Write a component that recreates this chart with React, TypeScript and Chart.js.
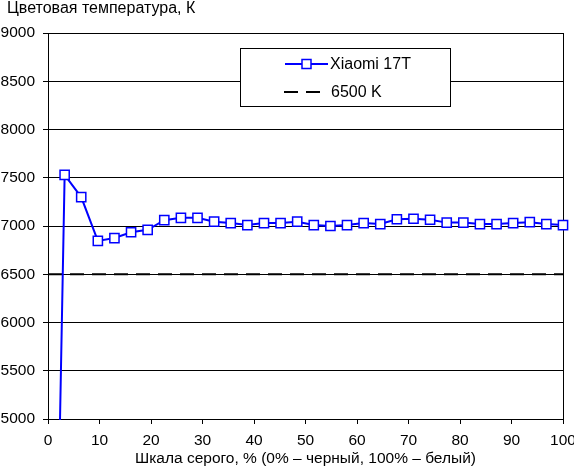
import React, { useEffect, useRef } from "react";
import { Chart, registerables } from "chart.js";

Chart.register(...registerables);

const FONT = "'Liberation Sans', Arial, sans-serif";

const grayLevels = [
  0, 3.23, 6.45, 9.68, 12.9, 16.13, 19.35, 22.58, 25.81, 29.03, 32.26, 35.48,
  38.71, 41.94, 45.16, 48.39, 51.61, 54.84, 58.06, 61.29, 64.52, 67.74, 70.97,
  74.19, 77.42, 80.65, 83.87, 87.1, 90.32, 93.55, 96.77, 100,
];

const xiaomiTemps = [
  -1600, 7530, 7300, 6845, 6875, 6935, 6960, 7060, 7085, 7085, 7045, 7030,
  7010, 7030, 7030, 7045, 7010, 7000, 7010, 7030, 7020, 7070, 7075, 7065,
  7035, 7035, 7020, 7020, 7030, 7040, 7020, 7010,
];

const refX = [0, 100];
const refTemps = [6500, 6500];

const seriesLabels = ["Xiaomi 17T", "6500 K"];
const yTitle = "Цветовая температура, К";
const xTitle = "Шкала серого, % (0% – черный, 100% – белый)";

const framePlugin = {
  id: "frame",
  beforeDatasetsDraw(chart: any) {
    const { ctx, chartArea } = chart;
    ctx.save();
    ctx.strokeStyle = "#000";
    ctx.lineWidth = 1;
    const x = Math.round(chartArea.right) + 0.5;
    ctx.beginPath();
    ctx.moveTo(x, chartArea.top);
    ctx.lineTo(x, chartArea.bottom + 5);
    ctx.stroke();
    ctx.restore();
  },
};

const textPlugin = {
  id: "yTitleText",
  afterDraw(chart: any) {
    const { ctx } = chart;
    ctx.save();
    ctx.fillStyle = "#000";
    ctx.font = `16px ${FONT}`;
    ctx.textAlign = "left";
    ctx.textBaseline = "alphabetic";
    ctx.fillText(yTitle, 7, 13);
    ctx.restore();
  },
};

const legendPlugin = {
  id: "boxLegend",
  afterDraw(chart: any) {
    const { ctx, chartArea } = chart;
    const left = chartArea.left + 192;
    const top = chartArea.top + 15;
    const w = 210;
    const h = 58;
    ctx.save();
    ctx.fillStyle = "#fff";
    ctx.fillRect(left, top, w, h);
    ctx.strokeStyle = "#000";
    ctx.lineWidth = 1;
    ctx.strokeRect(Math.round(left) + 0.5, Math.round(top) + 0.5, w, h);

    const ds = chart.data.datasets;
    const y1 = top + 16;
    ctx.strokeStyle = ds[0].borderColor;
    ctx.lineWidth = 2;
    ctx.setLineDash([]);
    ctx.beginPath();
    ctx.moveTo(left + 45, y1);
    ctx.lineTo(left + 88, y1);
    ctx.stroke();
    ctx.fillStyle = "#fff";
    ctx.fillRect(left + 62, y1 - 4.5, 9, 9);
    ctx.lineWidth = 1.5;
    ctx.strokeRect(left + 62, y1 - 4.5, 9, 9);

    const y2 = top + 44;
    ctx.strokeStyle = ds[1].borderColor;
    ctx.lineWidth = 2;
    ctx.setLineDash(ds[1].borderDash);
    ctx.beginPath();
    ctx.moveTo(left + 44, y2);
    ctx.lineTo(left + 81, y2);
    ctx.stroke();
    ctx.setLineDash([]);

    ctx.fillStyle = "#000";
    ctx.font = `16px ${FONT}`;
    ctx.textAlign = "left";
    ctx.textBaseline = "middle";
    ctx.fillText(ds[0].label, left + 90, y1 + 1);
    ctx.fillText(ds[1].label, left + 91, y2 + 1);
    ctx.restore();
  },
};

export default function App() {
  const ref = useRef<HTMLCanvasElement | null>(null);

  useEffect(() => {
    document.body.style.margin = "0";
    const canvas = ref.current;
    if (!canvas) return;
    const chart = new Chart(canvas, {
      type: "line",
      data: {
        datasets: [
          {
            label: seriesLabels[0],
            data: grayLevels.map((x, i) => ({ x, y: xiaomiTemps[i] })),
            borderColor: "#0000ff",
            backgroundColor: "#ffffff",
            borderWidth: 2,
            pointStyle: "rect",
            pointRadius: 6.5,
            pointBorderWidth: 1.5,
            pointBackgroundColor: "#ffffff",
            pointBorderColor: "#0000ff",
            tension: 0,
            clip: { left: 1, right: 10, top: 10, bottom: 1 },
          } as any,
          {
            label: seriesLabels[1],
            data: refX.map((x, i) => ({ x, y: refTemps[i] })),
            borderColor: "#000000",
            borderWidth: 2,
            borderDash: [14, 8],
            pointRadius: 0,
            tension: 0,
          } as any,
        ],
      },
      options: {
        responsive: false,
        animation: false,
        devicePixelRatio: 1,
        layout: { padding: { top: 33, right: 11, left: 0, bottom: 0 } },
        plugins: {
          legend: { display: false },
          tooltip: { enabled: false },
        },
        scales: {
          x: {
            type: "linear",
            min: 0,
            max: 100,
            ticks: {
              stepSize: 10,
              color: "#000",
              font: { size: 15.5, family: FONT },
              padding: 7,
              maxRotation: 0,
              autoSkip: false,
              callback: (v: any) => String(v),
            },
            grid: {
              drawOnChartArea: false,
              drawTicks: true,
              tickLength: 5,
              color: "#000",
              lineWidth: 1,
            },
            border: { display: true, color: "#000", width: 1 },
            title: {
              display: true,
              text: xTitle,
              color: "#000",
              font: { size: 15.5, family: FONT },
              padding: { top: 0, bottom: 1 },
            },
            afterFit(s: any) {
              s.height = 50;
              s.paddingLeft = 0;
              s.paddingRight = 0;
            },
          },
          y: {
            type: "linear",
            min: 5000,
            max: 9000,
            ticks: {
              stepSize: 500,
              color: "#000",
              font: { size: 15.5, family: FONT },
              padding: 8,
              callback: (v: any) => String(v),
            },
            grid: {
              color: "#000",
              lineWidth: 1,
              tickLength: 5,
              drawTicks: true,
            },
            border: { display: true, color: "#000", width: 1 },
            afterFit(s: any) {
              s.width = 48;
              s.paddingTop = 0;
              s.paddingBottom = 0;
            },
          },
        },
      } as any,
      plugins: [framePlugin, textPlugin, legendPlugin],
    });
    return () => chart.destroy();
  }, []);

  return (
    <div style={{ width: 574, height: 469, background: "#fff" }}>
      <canvas ref={ref} width={574} height={469} style={{ display: "block" }} />
    </div>
  );
}
